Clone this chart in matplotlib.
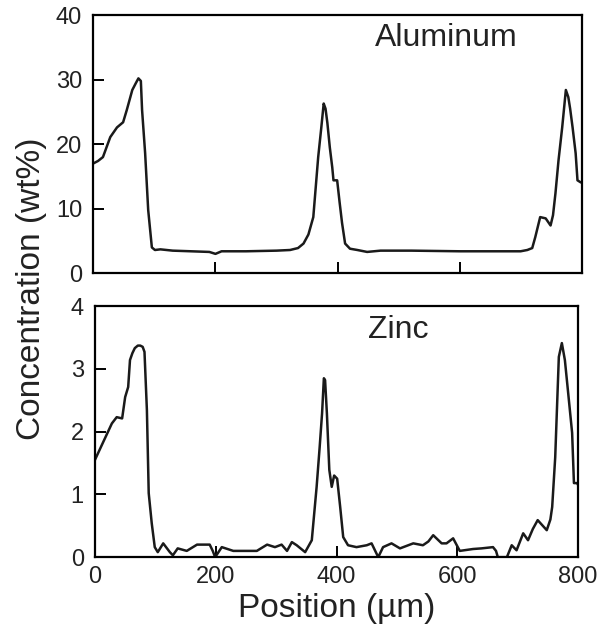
import matplotlib
matplotlib.use("Agg")
import matplotlib.pyplot as plt

plt.rcParams.update({
    "font.family": ["Liberation Sans", "DejaVu Sans"],
    "font.size": 17,
    "axes.linewidth": 1.6,
})

# Aluminum profile (wt%)
al_x = [0, 8, 16, 28, 39, 49, 55, 64, 70, 74, 78, 80, 85, 90, 96, 101, 110, 130,
        160, 190, 200, 210, 250, 300, 322, 335, 344, 352, 360, 368, 373, 377, 380,
        383, 387, 391, 393, 399, 403, 407, 412, 420, 432, 448, 470, 520, 600, 660,
        699, 710, 718, 723, 731, 740, 748, 752, 756, 761, 767, 773, 777, 780, 784,
        789, 792, 797, 800]
al_y = [17.0, 17.4, 18.0, 21.1, 22.6, 23.4, 25.3, 28.4, 29.5, 30.2, 29.8, 25.3,
        18.6, 9.8, 4.0, 3.6, 3.7, 3.5, 3.4, 3.3, 3.0, 3.4, 3.4, 3.5, 3.6, 3.9,
        4.6, 6.0, 8.7, 18.0, 22.5, 26.3, 25.5, 23.3, 19.5, 16.4, 14.4, 14.4, 11.0,
        7.8, 4.6, 3.8, 3.6, 3.3, 3.5, 3.5, 3.4, 3.4, 3.4, 3.6, 3.9, 5.6, 8.7, 8.5,
        7.4, 9.0, 12.4, 17.5, 22.6, 28.4, 27.3, 25.5, 22.6, 18.6, 14.4, 14.1, 14.0]

# Zinc profile (wt%)
zn_x = [0, 13, 28, 36, 45, 50, 55, 58, 62, 66, 71, 75, 79, 82, 86, 89, 94, 99,
        104, 113, 124, 129, 137, 152, 169, 190, 195, 199, 210, 229, 250, 268, 285,
        298, 309, 318, 326, 334, 348, 359, 367, 372, 376, 379, 381, 384, 388, 392,
        396, 401, 406, 411, 419, 433, 450, 458, 464, 469, 477, 491, 505, 527, 543,
        552, 560, 574, 582, 593, 604, 626, 640, 659, 664, 667, 682, 690, 698, 709,
        717, 725, 733, 748, 754, 757, 762, 765, 768, 773, 778, 783, 790, 793, 798,
        800]
zn_y = [1.55, 1.82, 2.13, 2.23, 2.21, 2.55, 2.71, 3.14, 3.25, 3.33, 3.37, 3.37,
        3.35, 3.27, 2.34, 1.02, 0.54, 0.16, 0.08, 0.22, 0.08, 0.03, 0.14, 0.10,
        0.20, 0.20, 0.10, 0.0, 0.16, 0.10, 0.10, 0.10, 0.20, 0.16, 0.20, 0.10,
        0.24, 0.19, 0.08, 0.27, 1.12, 1.75, 2.29, 2.85, 2.82, 2.29, 1.39, 1.12,
        1.30, 1.25, 0.80, 0.32, 0.19, 0.16, 0.19, 0.22, 0.10, 0.0, 0.16, 0.22,
        0.14, 0.22, 0.19, 0.25, 0.35, 0.22, 0.22, 0.30, 0.10, 0.13, 0.14, 0.16,
        0.10, 0.0, 0.0, 0.19, 0.11, 0.38, 0.27, 0.45, 0.59, 0.43, 0.60, 0.80,
        1.59, 2.39, 3.19, 3.41, 3.14, 2.66, 1.98, 1.18, 1.18, 1.15]

fig = plt.figure(figsize=(6.01, 6.31), dpi=100)
ax1 = fig.add_axes([0.155, 0.567, 0.814, 0.409])
ax2 = fig.add_axes([0.158, 0.117, 0.804, 0.398])

line_kw = dict(color="#1a1a1a", lw=1.8)

ax1.plot(al_x, al_y, **line_kw)
ax1.set_xlim(0, 800)
ax1.set_ylim(0, 40)
ax1.set_yticks([0, 10, 20, 30, 40])
ax1.set_xticks([0, 200, 400, 600, 800])
ax1.tick_params(axis="x", labelbottom=False)
ax1.text(578, 36.4, "Aluminum", ha="center", va="center", fontsize=23, color="#222222")

ax2.plot(zn_x, zn_y, **line_kw)
ax2.set_xlim(0, 800)
ax2.set_ylim(0, 4)
ax2.set_yticks([0, 1, 2, 3, 4])
ax2.set_xticks([0, 200, 400, 600, 800])
ax2.text(502, 3.62, "Zinc", ha="center", va="center", fontsize=23, color="#222222")
ax2.set_xlabel("Position (\u00b5m)", fontsize=24, color="#222222", labelpad=4)

for ax in (ax1, ax2):
    ax.tick_params(direction="in", length=8, width=1.4, pad=6,
                   labelcolor="#222222", labelsize=17)
    ax.tick_params(axis="y", pad=8)

fig.text(0.053, 0.542, "Concentration (wt%)", rotation=90, ha="center",
         va="center", fontsize=24, color="#222222")

fig.savefig("out.png", dpi=100, facecolor="white")
